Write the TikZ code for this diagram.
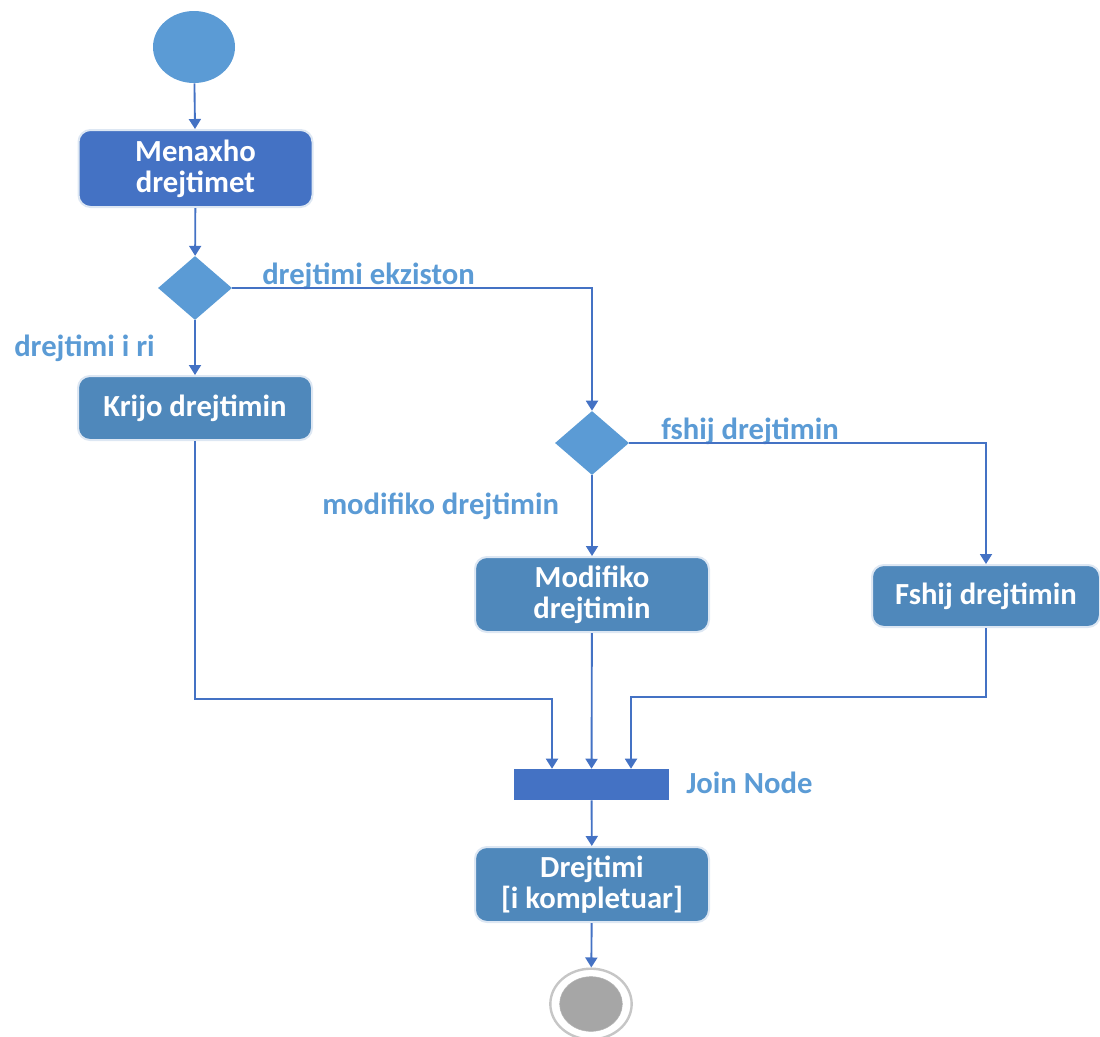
\documentclass[tikz,border=0pt]{standalone}
\usepackage{fontspec}
\setmainfont{Carlito}
\usetikzlibrary{arrows.meta,shapes.geometric}
\definecolor{darkblue}{HTML}{4472C4}
\definecolor{midblue}{HTML}{5B9BD5}
\definecolor{steel}{HTML}{4F88BB}
\definecolor{halo}{HTML}{DDE7F3}
\definecolor{endgray}{HTML}{A6A6A6}
\begin{document}
\begin{tikzpicture}[x=0.75pt,y=-0.75pt,
  action/.style={rounded corners=9pt, fill=steel, draw=halo, line width=1.5pt,
    text=white, font=\bfseries\fontsize{23}{23.5}\selectfont, align=center,
    minimum width=175.5pt, inner sep=0pt},
  decision/.style={diamond, fill=midblue, minimum width=55.5pt, minimum height=48pt, inner sep=0pt},
  guard/.style={text=midblue, font=\bfseries\fontsize{23}{23.5}\selectfont, inner sep=0pt, anchor=west},
  flow/.style={draw=darkblue, line width=1.4pt, -{Triangle[length=7.5pt,width=9pt]}},
  link/.style={draw=darkblue, line width=1.4pt}
]
\useasboundingbox (0,0) rectangle (1100,1036);

% initial node
\node[ellipse, fill=midblue, minimum width=61.5pt, minimum height=54pt, inner sep=0pt] (start) at (194,47) {};

% actions
\node[action, fill=darkblue, minimum height=57.75pt] (menaxho) at (195.5,168.5) {Menaxho\\drejtimet};
\node[decision] (d1) at (195,288) {};
\node[action, minimum height=48pt] (krijo) at (195,408) {Krijo drejtimin};
\node[decision] (d2) at (592,443) {};
\node[action, minimum height=56.25pt] (modifiko) at (592,594.5) {Modifiko\\drejtimin};
\node[action, minimum width=171pt, minimum height=46.5pt] (fshij) at (986,596) {Fshij drejtimin};

% join bar and final action
\node[fill=darkblue, minimum width=116.25pt, minimum height=23.25pt, inner sep=0pt] (join) at (591.5,784.5) {};
\node[action, minimum height=56.25pt] (drejtimi) at (592,884.5) {Drejtimi\\{[i kompletuar]}};

% final node
\node[ellipse, fill=white, draw=gray!45, line width=1.8pt, minimum width=61pt, minimum height=53pt, inner sep=0pt] (endo) at (591,1004) {};
\node[ellipse, fill=endgray, draw=gray!60, line width=0.4pt, minimum width=47pt, minimum height=41pt, inner sep=0pt] (endi) at (591,1004) {};

% guard labels
\node[guard] (g1) at (262,276) {drejtimi ekziston};
\node[guard] (g2) at (14,348) {drejtimi i ri};
\node[guard] (g3) at (661,431) {fshij drejtimin};
\node[guard] (g4) at (322,506) {modifiko drejtimin};
\node[guard] (g5) at (686,783) {Join Node};

% bend points for the join routes
\coordinate (kb) at (552,699);
\coordinate (fb) at (631,697);

% connectors
\draw[flow] (start) -- (menaxho);
\draw[flow] (menaxho) -- (d1);
\draw[flow] (d1) -- (krijo);
\draw[flow] (d1.east) -| (d2.north);
\draw[flow] (d2) -- (modifiko);
\draw[flow] (d2.east) -| (fshij.north);
\draw[flow] (krijo.south) |- (kb) -- (kb |- join.north);
\draw[flow] (modifiko) -- (join);
\draw[flow] (fshij.south) |- (fb) -- (fb |- join.north);
\draw[flow] (join) -- (drejtimi);
\draw[flow] (drejtimi) -- (endo);
\end{tikzpicture}
\end{document}
